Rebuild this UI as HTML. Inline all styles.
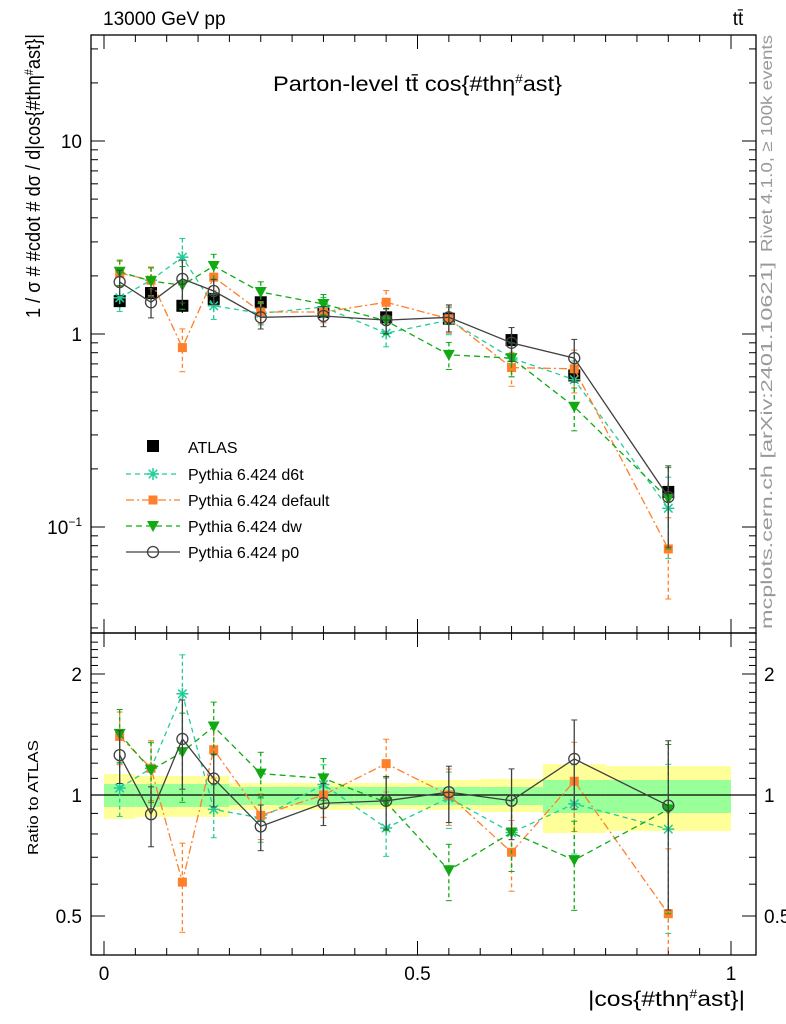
<!DOCTYPE html>
<html><head><meta charset="utf-8"><style>
body{margin:0;background:#fff;}
svg{display:block;font-family:"Liberation Sans",sans-serif;}
</style></head><body>
<svg id="c" width="786" height="1024" viewBox="0 0 786 1024" xmlns="http://www.w3.org/2000/svg">
<g id="bands"></g>
<g id="g"></g>
<rect x="91" y="35" width="665" height="598" fill="none" stroke="#000" stroke-width="1.3"/>
<rect x="91" y="633" width="665" height="322" fill="none" stroke="#000" stroke-width="1.3"/>
<text x="103" y="25" font-size="19">13000 GeV pp</text>
<text x="738" y="25" font-size="19" text-anchor="middle">tt̄</text>
<text x="273" y="91" font-size="21" textLength="289" lengthAdjust="spacingAndGlyphs">Parton-level tt̄ cos{#thη<tspan font-size="12" dy="-8">#</tspan><tspan dy="8">ast}</tspan></text>
<text transform="translate(40,318) rotate(-90)" font-size="20" textLength="284" lengthAdjust="spacingAndGlyphs">1 / σ # #cdot # dσ / d|cos{#thη<tspan font-size="12" dy="-7">#</tspan><tspan dy="7">ast}|</tspan></text>
<text transform="translate(38,855) rotate(-90)" font-size="15" textLength="115" lengthAdjust="spacingAndGlyphs">Ratio to ATLAS</text>
<text x="588" y="1006" font-size="21" textLength="157" lengthAdjust="spacingAndGlyphs">|cos{#thη<tspan font-size="12" dy="-8">#</tspan><tspan dy="8">ast}|</tspan></text>
<text transform="translate(772,252) rotate(-90)" font-size="16" fill="#999" textLength="217" lengthAdjust="spacingAndGlyphs">Rivet 4.1.0, ≥ 100k events</text>
<text transform="translate(772,629) rotate(-90)" font-size="16" fill="#999" textLength="367" lengthAdjust="spacingAndGlyphs">mcplots.cern.ch [arXiv:2401.10621]</text>
</svg>
<script>
const xcenters=[0.025,0.075,0.125,0.175,0.25,0.35,0.45,0.55,0.65,0.75,0.9];
const atlas=[1.48,1.63,1.40,1.52,1.46,1.30,1.22,1.20,0.93,0.61,0.152];
const atlasErr=[0.08,0.08,0.08,0.08,0.07,0.07,0.07,0.07,0.08,0.12,0.12];
const d6t=[1.54,1.90,2.50,1.40,1.28,1.38,1.01,1.18,0.75,0.58,0.125];
const def=[2.07,1.90,0.85,1.97,1.30,1.30,1.46,1.20,0.67,0.66,0.077];
const dw=[2.10,1.88,1.79,2.25,1.65,1.43,1.17,0.78,0.75,0.42,0.14];
const p0=[1.86,1.46,1.93,1.67,1.22,1.24,1.18,1.22,0.90,0.75,0.143];
const mcErr=[0.15,0.17,0.25,0.15,0.13,0.12,0.15,0.16,0.2,0.25,0.45];
const bandEdges=[0,0.05,0.2,0.4,0.5,0.6,0.7,0.8,1.0];
const yellowLo=[0.872,0.882,0.918,0.923,0.918,0.907,0.804,0.814];
const yellowHi=[1.128,1.115,1.071,1.071,1.09,1.096,1.194,1.18];
const greenLo=[0.934,0.934,0.944,0.944,0.944,0.944,0.902,0.902];
const greenHi=[1.065,1.065,1.047,1.047,1.047,1.047,1.09,1.09];
const ratioTicks=[0.5,1,2];
const xTicks=[0,0.5,1];
const NS="http://www.w3.org/2000/svg";
const X=v=>104+627*v;
const Y=v=>334-193*Math.log10(v);
const R=v=>795-402*Math.log10(v);
const g=document.getElementById('g'),bg=document.getElementById('bands');
function el(t,a,p){const e=document.createElementNS(NS,t);for(const k in a)e.setAttribute(k,a[k]);(p||g).appendChild(e);return e;}
for(let i=0;i<yellowLo.length;i++){
 const y=el('rect',{x:X(bandEdges[i]),y:R(yellowHi[i]),width:X(bandEdges[i+1])-X(bandEdges[i]),height:R(yellowLo[i])-R(yellowHi[i]),fill:'#ffff99'},bg);
 
 
 const gr=el('rect',{x:X(bandEdges[i]),y:R(greenHi[i]),width:X(bandEdges[i+1])-X(bandEdges[i]),height:R(greenLo[i])-R(greenHi[i]),fill:'#99ff99'},bg);
 
 
}
const l1=el('line',{x1:91,x2:756,y1:R(1),y2:R(1),stroke:'#000','stroke-width':1.3});


for(let d=-2;d<=1;d++)for(let m=1;m<10;m++){const v=m*Math.pow(10,d);const y=Y(v);if(y<35||y>633)continue;const len=m==1?14:7;
 el('line',{x1:91,x2:91+len,y1:y,y2:y,stroke:'#000'});el('line',{x1:756,x2:756-len,y1:y,y2:y,stroke:'#000'});}
[[10,'10'],[1,'1']].forEach(([v,s])=>{const t=el('text',{x:82,y:Y(v)+7,'font-size':19,'text-anchor':'end'});t.textContent=s;});
{const t=el('text',{x:82,y:Y(0.1)+7,'font-size':19,'text-anchor':'end'});t.innerHTML='10<tspan font-size="12" dy="-8">−1</tspan>';}
for(let v=0.4;v<=2.5;v+=0.1){const y=R(v);if(y<633||y>955)continue;const maj=ratioTicks.some(t=>Math.abs(t-v)<1e-6);const len=maj?14:7;
 el('line',{x1:91,x2:91+len,y1:y,y2:y,stroke:'#000'});el('line',{x1:756,x2:756-len,y1:y,y2:y,stroke:'#000'});}
ratioTicks.forEach(v=>{const s=v==1?'1':String(v);
 const a=el('text',{x:82,y:R(v)+7,'font-size':19,'text-anchor':'end'});a.textContent=s;
 const b=el('text',{x:764,y:R(v)+7,'font-size':19});b.textContent=s;});
for(let i=0;i<=20;i++){const v=i*0.05;const x=X(v);const len=i%10==0?14:7;
 el('line',{x1:x,x2:x,y1:633,y2:633-len,stroke:'#000'});el('line',{x1:x,x2:x,y1:35,y2:35+len,stroke:'#000'});
 el('line',{x1:x,x2:x,y1:633,y2:633+len,stroke:'#000'});el('line',{x1:x,x2:x,y1:955,y2:955-len,stroke:'#000'});}
xTicks.forEach(v=>{const t=el('text',{x:X(v),y:980,'font-size':19,'text-anchor':'middle'});t.textContent=String(v);});
function marker(type,x,y,c,p){
 if(type=='sq')return el('rect',{x:x-6,y:y-6,width:12,height:12,fill:c},p);
 if(type=='osq')return el('rect',{x:x-4.5,y:y-4.5,width:9,height:9,fill:c},p);
 if(type=='tri')return el('path',{d:`M${x-6},${y-5}L${x+6},${y-5}L${x},${y+6}Z`,fill:c},p);
 if(type=='circ')return el('circle',{cx:x,cy:y,r:5.5,fill:'none',stroke:c,'stroke-width':1.3},p);
 if(type=='star'){const gg=el('g',{stroke:c,'stroke-width':1.5},p);for(let a=0;a<4;a++){const an=a*Math.PI/4;el('line',{x1:x-6*Math.cos(an),y1:y-6*Math.sin(an),x2:x+6*Math.cos(an),y2:y+6*Math.sin(an)},gg);}return gg;}
}
const series=[
 {name:'d6t',vals:d6t,color:'#22cc99',dash:'5,4',m:'star'},
 {name:'default',vals:def,color:'#ff7f2a',dash:'8,3,2,3',m:'osq'},
 {name:'dw',vals:dw,color:'#11aa11',dash:'6,4',m:'tri'},
 {name:'p0',vals:p0,color:'#404040',dash:'',m:'circ'}];
function drawSeries(s,Yf,vals,errs,pref){
 const grp=el('g',{});
 
 
 const pts=vals.map((v,i)=>X(xcenters[i])+','+Yf(v)).join(' ');
 el('polyline',{points:pts,fill:'none',stroke:s.color,'stroke-width':1.3,'stroke-dasharray':s.dash},grp);
 vals.forEach((v,i)=>{const x=X(xcenters[i]);const e=errs[i];
  const lo=Math.min(Yf(Math.max(v*(1-e),1e-3)),pref=='ratio'?955:633);
  el('line',{x1:x,x2:x,y1:Yf(v*(1+e)),y2:lo,stroke:s.color,'stroke-width':1.3,'stroke-dasharray':s.dash?'4,3':''},grp);
  el('line',{x1:x-3,x2:x+3,y1:Yf(v*(1+e)),y2:Yf(v*(1+e)),stroke:s.color},grp);
  el('line',{x1:x-3,x2:x+3,y1:lo,y2:lo,stroke:s.color},grp);
  const mk=marker(s.m,x,Yf(v),s.color,grp);
  
  });
}
{const grp=el('g',{});
 
 
 atlas.forEach((v,i)=>{const x=X(xcenters[i]);const e=atlasErr[i];
  el('line',{x1:x,x2:x,y1:Y(v*(1+e)),y2:Y(v*(1-e)),stroke:'#000','stroke-width':1.3},grp);
  const mk=marker('sq',x,Y(v),'#000',grp);
  
  });}
series.forEach(s=>drawSeries(s,Y,s.vals,mcErr,'main'));
series.forEach(s=>drawSeries(s,R,s.vals.map((v,i)=>v/atlas[i]),mcErr,'ratio'));
const lg=el('g',{});


marker('sq',153,446,'#000',lg);
{const t=el('text',{x:188,y:453,'font-size':16},lg);t.textContent='ATLAS';}
series.forEach((s,i)=>{const y=474+26*i;
 el('line',{x1:126,x2:180,y1:y,y2:y,stroke:s.color,'stroke-width':1.3,'stroke-dasharray':s.dash},lg);
 marker(s.m,153,y,s.color,lg);
 const t=el('text',{x:188,y:y+6,'font-size':16},lg);t.textContent='Pythia 6.424 '+s.name;
 
 });
</script>
</body></html>
